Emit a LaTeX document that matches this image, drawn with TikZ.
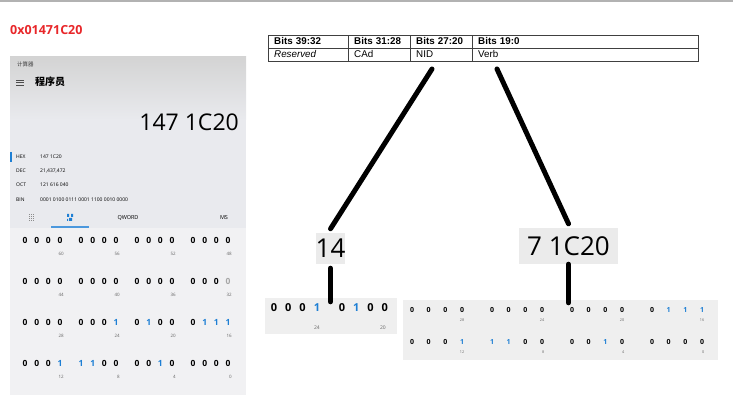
\documentclass[tikz,border=0pt]{standalone}
\usepackage{fontspec}
\setmainfont{Open Sans}
\newfontfamily\arialfont{Liberation Sans}
\newfontfamily\cjk{Noto Sans CJK SC}
\usetikzlibrary{positioning,calc}
\definecolor{calcblue}{HTML}{1E7FD4}
\definecolor{hexred}{HTML}{E8272A}
\definecolor{panelgray}{HTML}{E9EAEE}
\definecolor{gridgray}{HTML}{F1F1F3}
\definecolor{stripgray}{HTML}{EFEFEF}
\tikzset{
  bit0/.style={text=black},
  bit1/.style={text=calcblue},
  bit2/.style={text=black!35},
  bitlbl/.style={text=black!60, anchor=east, inner sep=0pt},
  cell/.style={draw=black!75, anchor=north west, minimum height=13pt, inner xsep=6pt,
    inner ysep=0pt, text width=#1, text height=7pt, text depth=2pt,
    font=\arialfont\fontsize{9.8}{11}\selectfont},
  link/.style={line width=5pt, line cap=round, black},
  bighex/.style={fill=black!8, inner sep=0pt, font=\fontsize{26}{28}\selectfont},
}
\begin{document}
\begin{tikzpicture}[x=1pt,y=-1pt]
  \useasboundingbox (0,0) rectangle (733,411);
  \draw[black!30, line width=1.5pt] (0,1) -- (733,1);
  \node[anchor=west, inner sep=0pt, text=hexred, font=\bfseries\fontsize{12.5}{14}\selectfont] (hexval) at (10,30) {0x01471C20};

  % calculator panel
  \fill[panelgray] (10,57) rectangle (246,395);
  \shade[top color=black!17, bottom color=panelgray] (10,57) rectangle (246,120);
  \fill[gridgray] (10,228) rectangle (246,395);
  \begin{scope}[every node/.style={anchor=west, inner sep=0pt}]
    \node[font=\cjk\fontsize{5.5}{6}\selectfont, text=black!75] (apptitle) at (17,64) {计算器};
    \node[font=\cjk\bfseries\fontsize{10}{12}\selectfont] (mode) at (35,82) {程序员};
    \node[anchor=east, font=\fontsize{23}{25}\selectfont] (display) at (239,122) {147 1C20};
    \node[font=\fontsize{5}{6}\selectfont] (hexlbl) at (16,157) {HEX};
    \node[font=\fontsize{5}{6}\selectfont] (declbl) at (16,171) {DEC};
    \node[font=\fontsize{5}{6}\selectfont] (octlbl) at (16,185) {OCT};
    \node[font=\fontsize{5}{6}\selectfont] (binlbl) at (16,200) {BIN};
    \node[font=\fontsize{5}{6}\selectfont] (hexnum) at (40,157) {147 1C20};
    \node[font=\fontsize{5}{6}\selectfont] (decnum) at (40,171) {21,437,472};
    \node[font=\fontsize{5}{6}\selectfont] (octnum) at (40,185) {121 616 040};
    \node[font=\fontsize{5}{6}\selectfont] (binnum) at (40,200) {0001 0100 0111 0001 1100 0010 0000};
    \node[anchor=center, font=\fontsize{5.5}{6}\selectfont] (qword) at (128,218) {QWORD};
    \node[anchor=center, font=\fontsize{5.5}{6}\selectfont] (ms) at (224,218) {MS};
  \end{scope}
  \draw[black!70, line width=0.7pt] (16,80) -- (24,80) (16,82.5) -- (24,82.5) (16,85) -- (24,85);
  \draw[calcblue, line width=1.3pt] (11,152) -- (11,162);
  \foreach \dx in {0,2,4} \foreach \dy in {0,2,4,6}
    \fill[black!45] (29+\dx,214+\dy) rectangle +(1,1);
  \fill[calcblue] (67,214) rectangle +(2,3) (71,214) rectangle +(2,3) (69,218) rectangle +(3,3) (67,219) rectangle +(1,2);
  \draw[calcblue!80, line width=1.5pt] (51,227) -- (89,227);

  % bit grid of the calculator
  \foreach \row [count=\r from 0] in {{0,0,0,0,0,0,0,0,0,0,0,0,0,0,0,0},
      {0,0,0,0,0,0,0,0,0,0,0,0,0,0,0,2},
      {0,0,0,0,0,0,0,1,0,1,0,0,0,1,1,1},
      {0,0,0,1,1,1,0,0,0,0,1,0,0,0,0,0}} {
    \foreach \b [count=\i from 0] in \row {
      \pgfmathtruncatemacro\g{\i/4}
      \node[bit\b, inner sep=0pt, font=\bfseries\fontsize{8.5}{10}\selectfont] (g-\r-\i)
        at ({25+\g*56+(\i-4*\g)*11.7},{240+\r*41}) {\ifnum\b=1 1\else 0\fi};
    }
  }
  \foreach \r in {0,...,3} \foreach \g in {0,...,3} {
    \pgfmathtruncatemacro\n{60-16*\r-4*\g}
    \node[bitlbl, font=\fontsize{4.5}{5}\selectfont] (gl-\r-\g) at ({64+\g*56},{254+\r*41}) {\n};
  }

  % register table
  \node[cell=68pt] (h1) at (268,35) {\bfseries Bits 39:32};
  \node[cell=50pt] (h2) at (348,35) {\bfseries Bits 31:28};
  \node[cell=50pt] (h3) at (410,35) {\bfseries Bits 27:20};
  \node[cell=214pt] (h4) at (472,35) {\bfseries Bits 19:0};
  \node[cell=68pt] (f1) at (268,48) {\itshape Reserved};
  \node[cell=50pt] (f2) at (348,48) {CAd};
  \node[cell=50pt] (f3) at (410,48) {NID};
  \node[cell=214pt] (f4) at (472,48) {Verb};

  % split values
  \node[bighex, minimum width=29pt, minimum height=31pt] (hex14) at (330.5,248.5) {14};
  \node[bighex, minimum width=99pt, minimum height=36pt] (hex71c20) at (568.5,246) {7 1C20};
  \node[fill=stripgray, minimum width=132pt, minimum height=36pt, inner sep=0pt] (strip14) at (331,316) {};
  \node[fill=stripgray, minimum width=315pt, minimum height=60pt, inner sep=0pt] (strip71c20) at (560.5,330) {};
  \foreach \b [count=\i from 0] in {0,0,0,1,0,1,0,0} {
    \pgfmathtruncatemacro\g{\i/4}
    \node[bit\b, inner sep=0pt, font=\bfseries\fontsize{11}{12}\selectfont] (n-\i)
      at ({274+\i*14.3+\g*10.7},308) {\ifnum\b=1 1\else 0\fi};
  }
  \node[bitlbl, font=\fontsize{5}{6}\selectfont] (nl-0) at (320,328) {24};
  \node[bitlbl, font=\fontsize{5}{6}\selectfont] (nl-1) at (386,328) {20};
  \foreach \row [count=\r from 0] in {{0,0,0,0,0,0,0,0,0,0,0,0,0,1,1,1},
      {0,0,0,1,1,1,0,0,0,0,1,0,0,0,0,0}} {
    \foreach \b [count=\i from 0] in \row {
      \pgfmathtruncatemacro\g{\i/4}
      \node[bit\b, inner sep=0pt, font=\bfseries\fontsize{7}{8}\selectfont] (v-\r-\i)
        at ({412+\g*80+(\i-4*\g)*16.7},{310+\r*32}) {\ifnum\b=1 1\else 0\fi};
    }
  }
  \foreach \r in {0,1} \foreach \g in {0,...,3} {
    \pgfmathtruncatemacro\n{28-16*\r-4*\g}
    \node[bitlbl, font=\fontsize{3.8}{4}\selectfont] (vl-\r-\g) at ({464.5+\g*80},{320+\r*32}) {\n};
  }

  % connectors
  \coordinate (nidfoot) at (432,69);
  \coordinate (verbfoot) at (497,69);
  \draw[link] (nidfoot) -- ([yshift=4pt]hex14.north);
  \draw[link] (verbfoot) -- ([yshift=4pt]hex71c20.north);
  \draw[link] ([yshift=-4pt]hex14.south) -- ($(hex14.south |- strip14.north)+(0,4)$);
  \draw[link] (hex71c20.south) -- ($(hex71c20.south |- strip71c20.north)+(0,3)$);
\end{tikzpicture}
\end{document}
